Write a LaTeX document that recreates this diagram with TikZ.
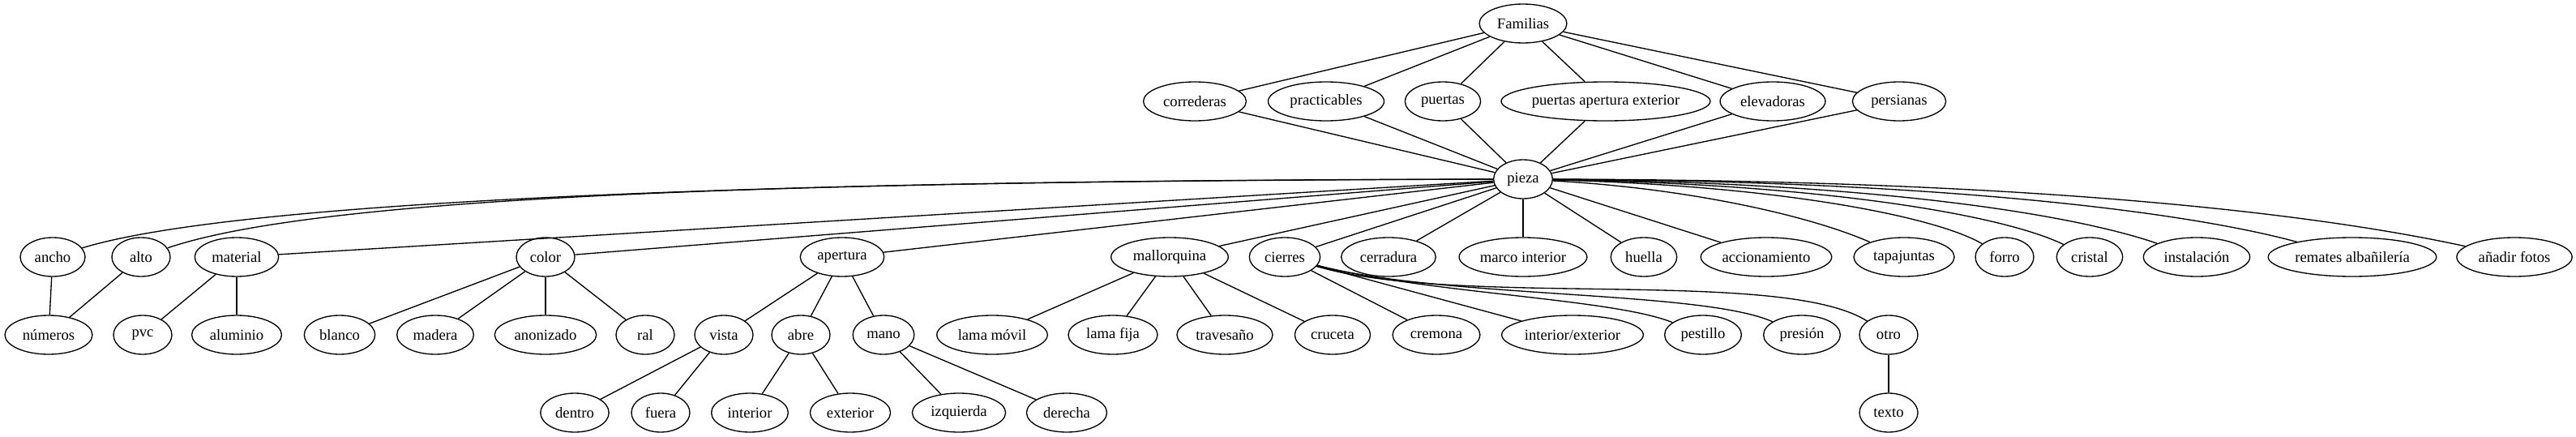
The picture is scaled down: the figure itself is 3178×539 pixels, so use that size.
\documentclass[tikz,border=0pt]{standalone}
\usepackage{fontspec}
\setmainfont{Liberation Serif}
\usepackage{tikz}
\usetikzlibrary{shapes.geometric}

\begin{document}
\begin{tikzpicture}[
  x=0.75pt, y=-0.75pt,
  font=\fontsize{14}{16.8}\selectfont,
  line width=1pt,
  ov/.style={draw, ellipse, inner xsep=4.5pt, inner ysep=0pt, minimum width=54pt, minimum height=36pt},
  ovw/.style={ov, inner xsep=2pt},
]
\useasboundingbox (0,0) rectangle (3178,539);
% top
\node[ov] (familias) at (1879,29) {Familias};
\node[ov] (correderas) at (1474,125) {correderas};
\node[ov] (practicables) at (1636,125) {practicables};
\node[ov] (puertas) at (1780,125) {puertas};
\node[ovw, inner xsep=0pt] (ptaext) at (1981,125) {puertas apertura exterior};
\node[ov] (elevadoras) at (2187,125) {elevadoras};
\node[ov] (persianas) at (2343,125) {persianas};
\node[ov] (pieza) at (1879,221) {pieza};
% piezas
\node[ov] (ancho) at (65,317) {ancho};
\node[ov] (alto) at (174,317) {alto};
\node[ov] (material) at (292,317) {material};
\node[ov] (color) at (673,317) {color};
\node[ov] (apertura) at (1039,317) {apertura};
\node[ov] (mallorquina) at (1443,317) {mallorquina};
\node[ov] (cierres) at (1585,317) {cierres};
\node[ov] (cerradura) at (1713,317) {cerradura};
\node[ovw] (marco) at (1879,317) {marco interior};
\node[ov] (huella) at (2028,317) {huella};
\node[ovw] (accionamiento) at (2179,317) {accionamiento};
\node[ov] (tapajuntas) at (2349,317) {tapajuntas};
\node[ov] (forro) at (2473,317) {forro};
\node[ov] (cristal) at (2578,317) {cristal};
\node[ov] (instalacion) at (2710,317) {instalación};
\node[ovw] (remates) at (2902,317) {remates albañilería};
\node[ov] (fotos) at (3102,317) {añadir fotos};
% opciones
\node[ov] (numeros) at (60,413) {números};
\node[ov] (pvc) at (176,413) {pvc};
\node[ov] (aluminio) at (292,413) {aluminio};
\node[ov] (blanco) at (419,413) {blanco};
\node[ov] (madera) at (537,413) {madera};
\node[ov] (anonizado) at (673,413) {anonizado};
\node[ov] (ral) at (796,413) {ral};
\node[ov] (vista) at (893,413) {vista};
\node[ov] (abre) at (988,413) {abre};
\node[ov] (mano) at (1090,413) {mano};
\node[ov] (lamamovil) at (1224,413) {lama móvil};
\node[ov] (lamafija) at (1373,413) {lama fija};
\node[ov] (travesano) at (1511,413) {travesaño};
\node[ov] (cruceta) at (1644,413) {cruceta};
\node[ov] (cremona) at (1772,413) {cremona};
\node[ovw] (intext) at (1940,413) {interior/exterior};
\node[ov] (pestillo) at (2101,413) {pestillo};
\node[ov] (presion) at (2223,413) {presión};
\node[ov] (otro) at (2330,413) {otro};
\node[ov] (dentro) at (709,509) {dentro};
\node[ov] (fuera) at (815,509) {fuera};
\node[ov] (interior) at (925,509) {interior};
\node[ov] (exterior) at (1049,509) {exterior};
\node[ov] (izquierda) at (1183,509) {izquierda};
\node[ov] (derecha) at (1316,509) {derecha};
\node[ov] (texto) at (2330,509) {texto};
% edges
\foreach \n in {correderas,practicables,puertas,ptaext,elevadoras,persianas} {
  \draw (familias) -- (\n);
  \draw (\n) -- (pieza);
}
\foreach \n in {material,color,apertura,mallorquina,cierres,cerradura,marco,huella,accionamiento}
  \draw (pieza) -- (\n);
\draw (pieza) .. controls (1000,222) and (300,245) .. (ancho);
\draw (pieza) .. controls (1000,223) and (400,240) .. (alto);
\draw (pieza) .. controls (2080,232) and (2230,265) .. (tapajuntas);
\draw (pieza) .. controls (2200,229) and (2390,268) .. (forro);
\draw (pieza) .. controls (2250,227) and (2470,265) .. (cristal);
\draw (pieza) .. controls (2300,225) and (2550,262) .. (instalacion);
\draw (pieza) .. controls (2400,223) and (2700,262) .. (remates);
\draw (pieza) .. controls (2500,222) and (2850,262) .. (fotos);
\draw (ancho) -- (numeros);
\draw (alto) -- (numeros);
\draw (material) -- (pvc);
\draw (material) -- (aluminio);
\foreach \n in {blanco,madera,anonizado,ral}
  \draw (color) -- (\n);
\foreach \n in {vista,abre,mano}
  \draw (apertura) -- (\n);
\draw (vista) -- (dentro);
\draw (vista) -- (fuera);
\draw (abre) -- (interior);
\draw (abre) -- (exterior);
\draw (mano) -- (izquierda);
\draw (mano) -- (derecha);
\foreach \n in {lamamovil,lamafija,travesano,cruceta}
  \draw (mallorquina) -- (\n);
\draw (cierres) -- (cremona);
\draw (cierres) -- (intext);
\draw (cierres) .. controls (1760,362) and (1990,368) .. (pestillo);
\draw (cierres) .. controls (1780,368) and (2100,358) .. (presion);
\draw (cierres) .. controls (1800,380) and (2200,330) .. (otro);
\draw (otro) -- (texto);
\end{tikzpicture}
\end{document}
